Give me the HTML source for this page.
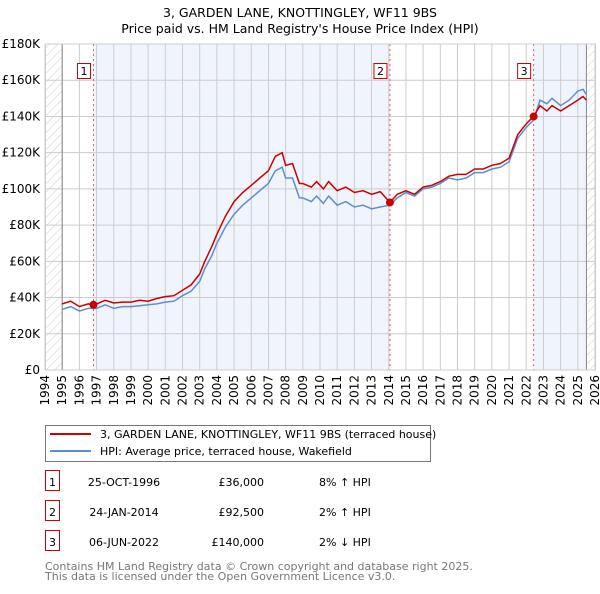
<!DOCTYPE html>
<html><head><meta charset="utf-8"><style>
body{margin:0;background:#fff;font-family:"DejaVu Sans","Liberation Sans",sans-serif;}
svg text{font-family:"DejaVu Sans","Liberation Sans",sans-serif;}
</style></head><body>
<svg id="chart" width="600" height="590" xmlns="http://www.w3.org/2000/svg">
<defs><pattern id="hatch" width="6" height="6" patternUnits="userSpaceOnUse" patternTransform="rotate(45)"><line x1="0" y1="0" x2="0" y2="6" stroke="#ccc" stroke-width="1"/></pattern></defs>
<text x="300" y="17" text-anchor="middle" font-size="12.5">3, GARDEN LANE, KNOTTINGLEY, WF11 9BS</text>
<text x="300" y="33" text-anchor="middle" font-size="12.5">Price paid vs. HM Land Registry's House Price Index (HPI)</text>
<g id="plot"></g>
<g>
<rect x="45.5" y="425.5" width="385" height="36" fill="#fff" stroke="#777"/>
<line x1="50" y1="434" x2="91" y2="434" stroke="#cc0000" stroke-width="2"/>
<text x="100" y="438" font-size="11">3, GARDEN LANE, KNOTTINGLEY, WF11 9BS (terraced house)</text>
<line x1="50" y1="451" x2="91" y2="451" stroke="#5b8fd0" stroke-width="2"/>
<text x="100" y="455" font-size="11">HPI: Average price, terraced house, Wakefield</text>
</g>
<g id="table" font-size="11"></g>
<text x="45" y="570" font-size="11" fill="#777">Contains HM Land Registry data © Crown copyright and database right 2025.</text>
<text x="45" y="580" font-size="11" fill="#777">This data is licensed under the Open Government Licence v3.0.</text>
</svg>
<script>
const dates=[1995.0,1995.5,1996.0,1996.5,1996.82,1997.0,1997.5,1998.0,1998.5,1999.0,1999.5,2000.0,2000.5,2001.0,2001.5,2002.0,2002.5,2003.0,2003.3,2003.7,2004.0,2004.5,2005.0,2005.5,2006.0,2006.5,2007.0,2007.4,2007.8,2008.0,2008.4,2008.8,2009.0,2009.5,2009.8,2010.2,2010.5,2011.0,2011.5,2012.0,2012.5,2013.0,2013.5,2014.07,2014.5,2015.0,2015.5,2016.0,2016.5,2017.0,2017.5,2018.0,2018.5,2019.0,2019.5,2020.0,2020.5,2021.0,2021.5,2022.0,2022.43,2022.8,2023.2,2023.5,2024.0,2024.5,2025.0,2025.3,2025.5];
const priceSeries=[36.5,38,35,36.5,36,36.5,38.5,37,37.5,37.5,38.5,38,39.5,40.5,41,44,47,53,60,68,75,85,93,98,102,106,110,118,120,113,114,103,103,101,104,100,104,99,101,98,99,97,98.5,92.5,97,99,97,101,102,104,107,108,108,111,111,113,114,117,130,136,140,146,143,146,143,146,149,151,149];
const hpiSeries=[33.5,35,32.5,34,34,34,36,34,35,35,35.5,36,36.5,37.5,38,41,43.5,49,56,63,70,79,86,91,95,99,103,110,112,106,106,95,95,93,96,92,96,91,93,90,91,89,90,91,95,98,96,100,101,103,106,105,106,109,109,111,112,115,128,134,138,149,147,150,146,149,154,155,152];
const sales=[{n:"1",t:1996.82,v:36,date:"25-OCT-1996",price:"£36,000",rel:"8% ↑ HPI"},{n:"2",t:2014.07,v:92.5,date:"24-JAN-2014",price:"£92,500",rel:"2% ↑ HPI"},{n:"3",t:2022.43,v:140,date:"06-JUN-2022",price:"£140,000",rel:"2% ↓ HPI"}];
const yTicks=[0,20,40,60,80,100,120,140,160,180];
const yLabels=["£0","£20K","£40K","£60K","£80K","£100K","£120K","£140K","£160K","£180K"];
const xYears=[1994,1995,1996,1997,1998,1999,2000,2001,2002,2003,2004,2005,2006,2007,2008,2009,2010,2011,2012,2013,2014,2015,2016,2017,2018,2019,2020,2021,2022,2023,2024,2025,2026];
const X0=45,X1=595,Y0=370,Y1=44;
const xs=t=>X0+(t-1994)/32*(X1-X0);
const ys=v=>Y0-v/180*(Y0-Y1);
const NS="http://www.w3.org/2000/svg";
const plot=document.getElementById('plot');
function mk(tag,attrs,parent){const e=document.createElementNS(NS,tag);for(const k in attrs)e.setAttribute(k,attrs[k]);(parent||plot).appendChild(e);return e;}
let e;
e=mk('rect',{x:X0,y:Y1,width:X1-X0,height:Y0-Y1,fill:'#fff'});


e=mk('rect',{x:xs(1994),y:Y1,width:xs(1995)-xs(1994),height:Y0-Y1,fill:'url(#hatch)'});


e=mk('rect',{x:xs(2025.5),y:Y1,width:X1-xs(2025.5),height:Y0-Y1,fill:'url(#hatch)'});


e=mk('rect',{x:xs(sales[0].t),y:Y1,width:xs(sales[1].t)-xs(sales[0].t),height:Y0-Y1,fill:'#f0f5fd'});


e=mk('rect',{x:xs(sales[2].t),y:Y1,width:xs(2025.5)-xs(sales[2].t),height:Y0-Y1,fill:'#f0f5fd'});


yTicks.forEach((v,i)=>{
 e=mk('line',{x1:X0,x2:X1,y1:ys(v),y2:ys(v),stroke:'#ccc','stroke-width':1});
 
 
 e=mk('text',{x:X0-5,y:ys(v)+4,'text-anchor':'end','font-size':12});
 e.textContent=yLabels[i];
 
 
});
xYears.forEach(yr=>{
 e=mk('line',{x1:xs(yr),x2:xs(yr),y1:Y1,y2:Y0,stroke:'#ccc','stroke-width':1});
 
 
 e=mk('text',{x:0,y:0,'text-anchor':'end','font-size':12,transform:`translate(${xs(yr)+4},${Y0+5}) rotate(-90)`});
 e.textContent=yr;
 
 
});
[1995,2025.5].forEach(t=>{e=mk('line',{x1:xs(t),x2:xs(t),y1:Y1,y2:Y0,stroke:'#888','stroke-width':1});
 
 });
sales.forEach(s=>{
 e=mk('line',{x1:xs(s.t),x2:xs(s.t),y1:Y1,y2:Y0,stroke:'#e55','stroke-width':1,'stroke-dasharray':'2,3'});
 
 
});
const path=arr=>dates.map((d,i)=>(i?'L':'M')+xs(d).toFixed(1)+','+ys(arr[i]).toFixed(1)).join('');
e=mk('path',{d:path(hpiSeries),fill:'none',stroke:'#5b8fd0','stroke-width':1.5});


e=mk('path',{d:path(priceSeries),fill:'none',stroke:'#cc0000','stroke-width':1.5});


sales.forEach(s=>{
 e=mk('circle',{cx:xs(s.t),cy:ys(s.v),r:4,fill:'#cc0000'});
 
 
 e=mk('rect',{x:xs(s.t)-16,y:63.5,width:13,height:15,fill:'#fff',stroke:'#cc0000'});
 
 
 e=mk('text',{x:xs(s.t)-9.5,y:75,'text-anchor':'middle','font-size':11});
 e.textContent=s.n;
 
 
});
e=mk('rect',{x:X0+0.5,y:Y1,width:X1-X0,height:Y0-Y1,fill:'none',stroke:'#ccc'});


const tbl=document.getElementById('table');
sales.forEach((s,i)=>{
 const y=482+i*30;
 e=mk('rect',{x:45.5,y:y-11.5,width:14,height:20,fill:'#fff',stroke:'#cc0000'},tbl);
 
 
 e=mk('text',{x:52.5,y:y+4,'text-anchor':'middle'},tbl);e.textContent=s.n;
 
 
 e=mk('text',{x:124,y:y+4,'text-anchor':'middle'},tbl);e.textContent=s.date;
 
 
 e=mk('text',{x:264,y:y+4,'text-anchor':'end'},tbl);e.textContent=s.price;
 
 
 e=mk('text',{x:319,y:y+4},tbl);e.textContent=s.rel;
 
 
});
</script>
</body></html>
